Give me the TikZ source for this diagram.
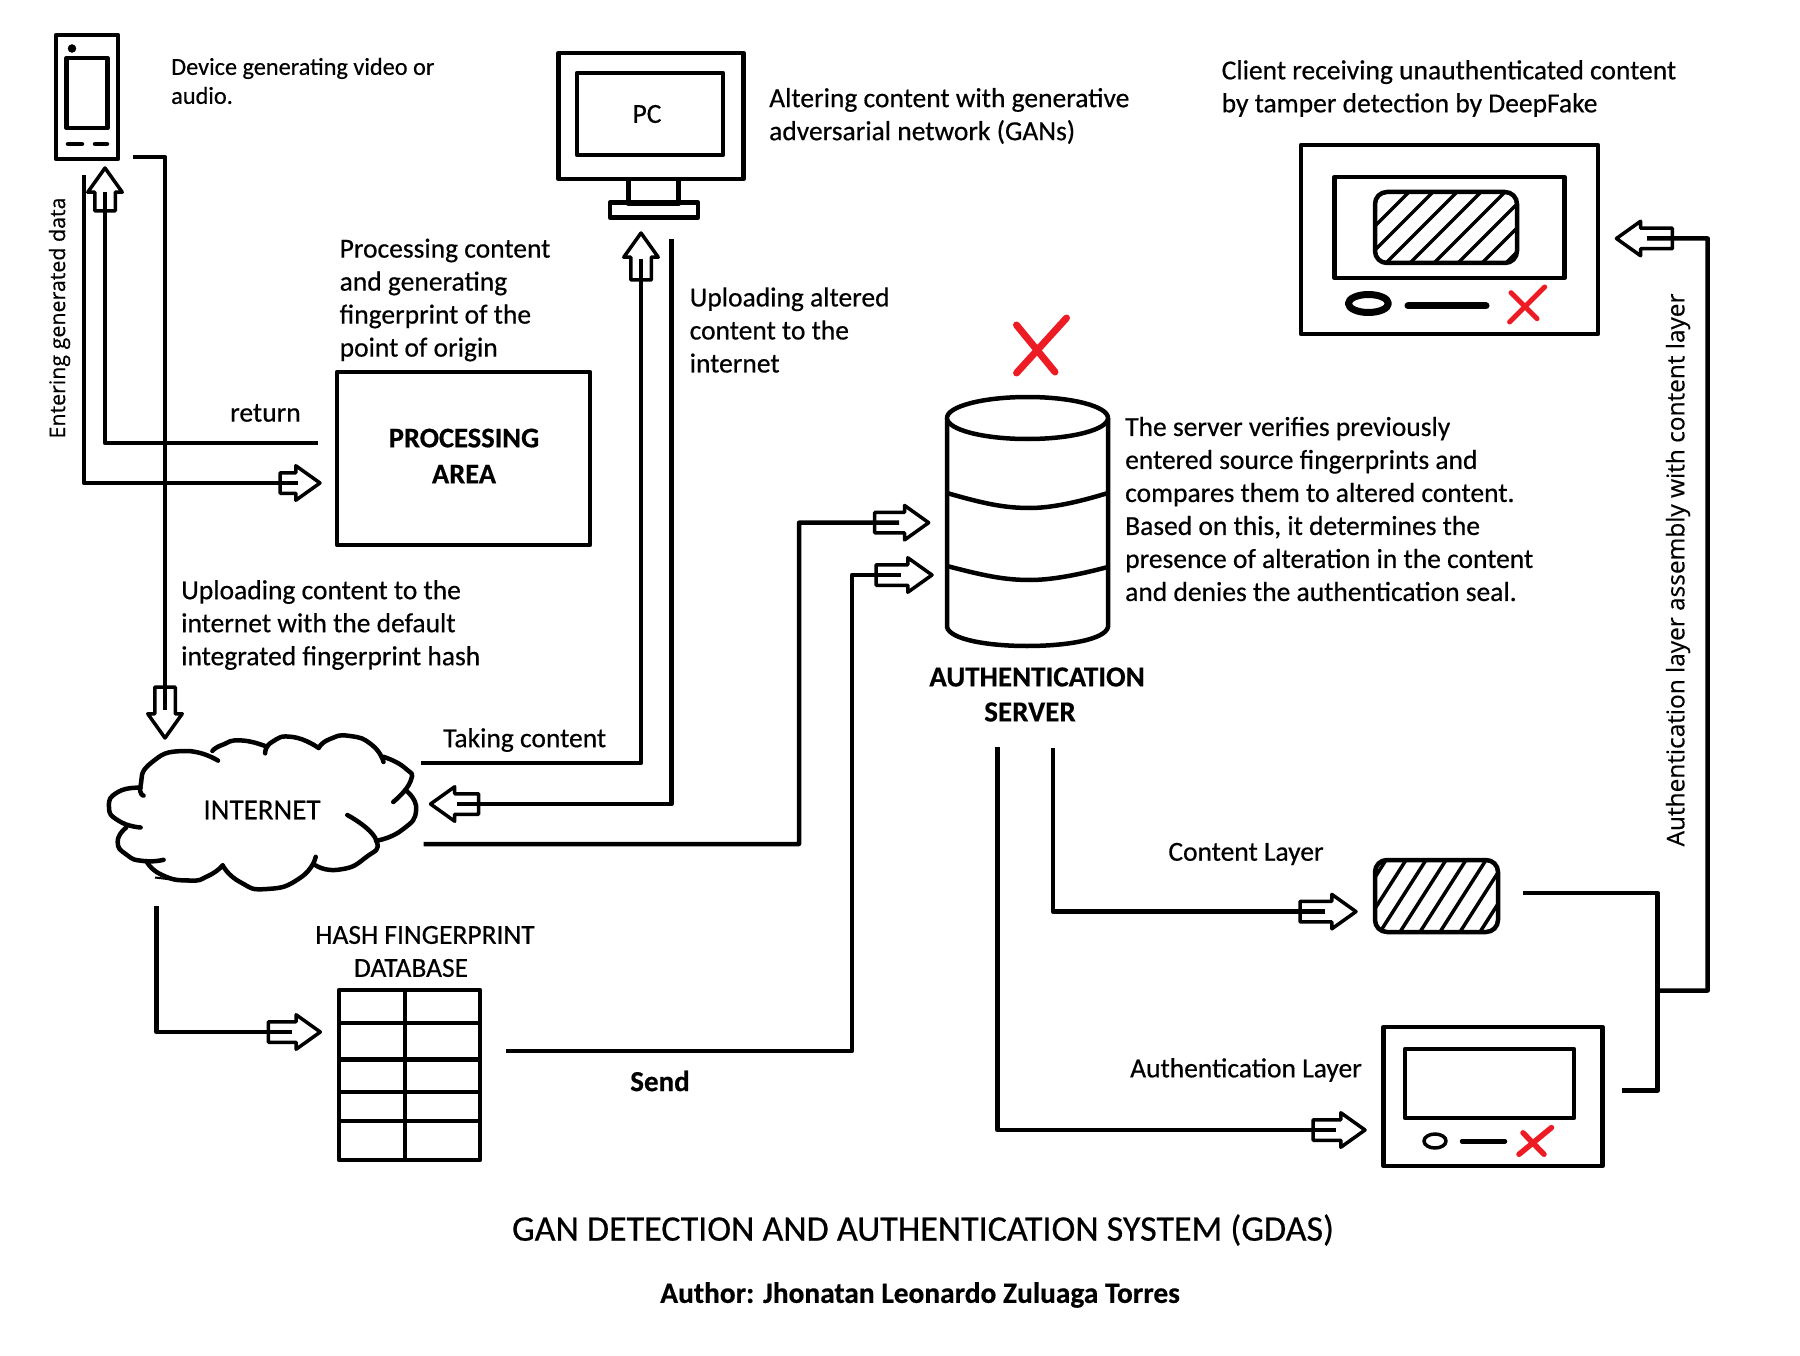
\documentclass[tikz,border=0pt]{standalone}
\usepackage{fontspec}
\usepackage{tikz}
\usetikzlibrary{shapes.arrows,calc}
\setmainfont[FakeBold=0.5]{Carlito}
\newfontfamily\sidefont[FakeBold=0.4]{Open Sans}
\definecolor{crossred}{HTML}{ED1C24}
\tikzset{
  wire/.style={line width=4.5pt},
  box/.style={draw,line width=4.5pt,inner sep=0pt,outer sep=0pt,align=center,font=\fontsize{27.5}{36}\selectfont},
  hollow/.style={draw,line width=3.5pt,anchor=tip,single arrow,single arrow tip angle=71,
    single arrow head extend=7pt,inner sep=8.5pt,outer sep=0pt},
  hatched/.style={box,rounded corners=12pt},
  cross/.style={draw=crossred,line width=5pt,line cap=round},
  txt/.style={anchor=west,align=left,inner sep=0pt,font=\fontsize{27.5}{33}\selectfont},
  caption/.style={inner sep=0pt,align=center,font=\fontsize{27.5}{35.5}\selectfont},
  heading/.style={inner sep=0pt,align=center,font=\fontsize{29}{35.5}\bfseries\selectfont},
  sidetxt/.style={inner sep=0pt,rotate=90,font=\sidefont\fontsize{21.4}{25}\selectfont}
}
\begin{document}
\begin{tikzpicture}[x=1pt,y=-1pt,join=round] % Device and PC
       \useasboundingbox (0,0) rectangle (1800,1356);
       \node[box,minimum width=62pt,minimum height=124pt] (phone) at (87,97) {};
       \node[box,minimum width=41pt,minimum height=70pt] (phonescreen) at (87,93) {};
       \filldraw (72,48.5) circle (4pt);
       \draw[wire,line cap=round] (68,144) -- (82,144) (95,144) -- (107,144);
       \node[box,minimum width=185pt,minimum height=126pt] (pc) at (651,116) {};
       \node[box,minimum width=146pt,minimum height=82pt] (pcscreen) at (650,114) {\hspace*{-6pt}PC};
       \node[box,minimum width=50pt,minimum height=25pt] (pcneck) at (653.5,191.5) {};
       \node[box,minimum width=88pt,minimum height=15pt] (pcbase) at (654,210) {};
       \node[box,minimum width=253pt,minimum height=173pt] (procarea) at (463.5,458.5) {};
       \node[heading,font=\fontsize{28.5}{36}\bfseries\selectfont] (procname) at (464,456) {PROCESSING\\AREA};
       % Client Screen
       \node[box,minimum width=297pt,minimum height=189pt] (client) at (1449.5,239.5) {};
       \node[box,minimum width=230pt,minimum height=101pt] (clientscreen) at (1449.5,227.5) {};
       \node[hatched,minimum width=142pt,minimum height=71pt] (clientlayer) at (1446,227.5) {};
       \begin{scope}
       \clip[rounded corners=12pt] (1375,192) rectangle (1517,263);
       \foreach \hx in {1338,1362,...,1530}
              \draw[line width=3.5pt] (\hx,263) -- ++(72,-72);
       \end{scope}
       \draw[line width=7pt] (1368.4,303.5) ellipse (20pt and 9pt);
       \draw[line width=7pt,line cap=round] (1408,306) -- (1486,306);
       \draw[cross] (1509.6,322) -- (1544.7,287) (1511,292.7) -- (1537,318.7);
       % Server Drum
       \draw[wire] (947,418) -- (947,627) .. controls (950,640) and (990,646) .. (1027,646) .. controls (1065,646) and (1105,640) .. (1108,627) -- (1108,418);
       \draw[wire,fill=white] (1027.5,418) ellipse (80.5pt and 21pt);
       \draw[wire] (947,493) .. controls (985,504) and (1005,508) .. (1030,508) .. controls (1055,508) and (1085,500) .. (1108,493);
       \draw[wire] (947,566) .. controls (985,576) and (1005,580) .. (1030,580) .. controls (1055,580) and (1085,573) .. (1108,567);
       \draw[cross,line width=7pt] (1016.5,325) -- (1055,372) (1066.5,318) -- (1016.5,373);
       % Layers
       \node[hatched,minimum width=123pt,minimum height=72pt] (contlayer) at (1436.5,896) {};
       \begin{scope}
       \clip[rounded corners=12pt] (1375,860) rectangle (1498,932);
       \foreach \hx in {1340,1360,...,1500}
              \draw[line width=3.5pt] (\hx,932) -- ++(46,-72);
       \end{scope}
       \node[box,minimum width=219pt,minimum height=139pt] (authlayer) at (1493,1096.5) {};
       \node[box,minimum width=169pt,minimum height=69pt] (authscreen) at (1489.5,1083.5) {};
       \draw[line width=3.5pt] (1435,1141) ellipse (11pt and 7pt);
       \draw[wire,line cap=round] (1462,1141.4) -- (1505,1141.4);
       \draw[cross,line width=5.5pt] (1519,1154.3) -- (1551.5,1127.6) (1523,1132.8) -- (1544,1154.3);
       % Hash Table
       \node[box,minimum width=141pt,minimum height=170pt] (hashdb) at (409.5,1075) {};
       \draw[wire] (405,990.5) -- (405,1160);
       \foreach \ry in {1023,1059.5,1092,1121}
              \draw[wire] (337,\ry) -- (482,\ry);
       % Cloud
       \node[inner sep=0pt,font=\fontsize{29}{33}\selectfont] (internet) at (262,810) {INTERNET};
       \draw[wire,line cap=round] plot[smooth,tension=1] coordinates {(218,760.6) (183.7,751) (151,763) (140.6,785.6) (143.5,795.6)};
       \draw[wire,line cap=round] plot[smooth,tension=1] coordinates {(140.6,787.8) (118,792) (109,807) (119,821) (140.6,827.5)};
       \draw[wire,line cap=round] plot[smooth,tension=1] coordinates {(126.3,827.5) (117.7,841.7) (127,855) (143.5,861) (163.6,859.8)};
       \draw[wire,line cap=round] plot[smooth,tension=1] coordinates {(146.4,861) (162,875) (189.4,880.5) (208,876) (222.7,865.4)};
       \draw[line width=2pt] (155,877.5) -- (192,882);
       \draw[wire,line cap=round] plot[smooth,tension=1] coordinates {(222.7,865.4) (240,882) (267,889) (300,878) (315.7,856.8)};
       \draw[wire,line cap=round] plot[smooth,tension=1] coordinates {(315.7,865.4) (338.7,869.7) (365,858) (376,839.6) (347.3,815)};
       \draw[wire,line cap=round] plot[smooth,tension=1] coordinates {(376,840.8) (402,830) (416.2,809.4) (405.3,790)};
       \draw[wire,line cap=round] plot[smooth,tension=1] coordinates {(393.2,802) (410.5,781.3) (405,768) (383.5,756.8)};
       \draw[wire,line cap=round] plot[smooth,tension=1] coordinates {(383.5,762) (372,745) (350,736) (330,739) (318.6,748)};
       \draw[wire,line cap=round] plot[smooth,tension=1] coordinates {(318.6,748) (292.8,737) (272,742) (265.2,753.3)};
       \draw[wire,line cap=round] plot[smooth,tension=1] coordinates {(267,746.8) (241,740.4) (222,745) (212.4,751)};
       % Hollow Arrows
       \node[hollow,shape border rotate=90,minimum height=43pt,minimum width=28pt] (phonein) at (105,168) {};
       \node[hollow,minimum height=40pt,minimum width=30pt] (procin) at (320,483) {};
       \node[hollow,shape border rotate=270,minimum height=51pt,minimum width=31pt] (netin) at (165,738) {};
       \node[hollow,shape border rotate=90,minimum height=47pt,minimum width=33pt] (pcin) at (641,233) {};
       \node[hollow,shape border rotate=180,minimum height=48pt,minimum width=31pt] (netback) at (430.5,804) {};
       \node[hollow,minimum height=54pt,minimum width=32pt] (srvtop) at (928.7,522.7) {};
       \node[hollow,minimum height=56pt,minimum width=31pt] (srvlow) at (932,575) {};
       \node[hollow,minimum height=52pt,minimum width=28pt] (dbin) at (320.3,1032) {};
       \node[hollow,minimum height=56pt,minimum width=30pt] (contin) at (1356,911.6) {};
       \node[hollow,minimum height=52pt,minimum width=30pt] (authin) at (1365,1130) {};
       \node[hollow,shape border rotate=180,minimum height=56pt,minimum width=34pt] (clientin) at (1616.4,238.5) {};
       \foreach \ar in {phonein,procin,netin,pcin,netback,srvtop,srvlow,dbin,contin,authin,clientin}
              \coordinate (\ar-end) at ($(\ar.tip)!0.55!(\ar.tail)$);
       % Connector Ends
       \coordinate (phoneout) at (133,157);
       \coordinate (phoneback) at (84,175);
       \coordinate (procback) at (317.5,443);
       \coordinate (taking) at (421,763);
       \coordinate (pcout) at (671.6,239);
       \coordinate (netout) at (423.6,844);
       \coordinate (bendtop) at (799,522.7);
       \coordinate (sendout) at (506,1051);
       \coordinate (bendlow) at (852,575);
       \coordinate (netdown) at (156.7,906.4);
       \coordinate (srvleft) at (997.6,747);
       \coordinate (srvright) at (1053,748);
       \coordinate (contout) at (1523,893);
       \coordinate (authout) at (1622,1090.5);
       \coordinate (joinbot) at (1657.7,1090.5);
       \coordinate (jointee) at (1657.7,990.5);
       \coordinate (bendup) at (1707.7,238.5);
       \draw[wire] (phoneout) -| (netin-end);
       \draw[wire] (phoneback) |- (procin-end);
       \draw[wire] (procback) -| (phonein-end);
       \draw[wire] (taking) -| (pcin-end);
       \draw[wire] (pcout) |- (netback-end);
       \draw[wire] (netout) -| (bendtop) -- (srvtop-end);
       \draw[wire] (sendout) -| (bendlow) -- (srvlow-end);
       \draw[wire] (netdown) |- (dbin-end);
       \draw[wire] (srvleft) |- (authin-end);
       \draw[wire] (srvright) |- (contin-end);
       \draw[wire] (contout) -| (joinbot) -- (authout);
       \draw[wire] (jointee) -| (bendup) -- (clientin-end);
       % Labels
       \node[txt,font=\fontsize{24.3}{29}\selectfont] (devicetxt) at (171,81) {Device generating video or\\audio.};
       \node[txt] (alteringtxt) at (769,116) {Altering content with generative\\adversarial network (GANs)};
       \node[txt] (clienttxt) at (1221.5,88.5) {Client receiving unauthenticated content\\by tamper detection by DeepFake};
       \node[txt] (origintxt) at (339.5,300) {Processing content\\and generating\\fingerprint of the\\point of origin};
       \node[txt] (alteredtxt) at (689.5,330) {Uploading altered\\content to the\\internet};
       \node[txt] (returntxt) at (230,413) {return};
       \node[txt] (hashtxt) at (181,625) {Uploading content to the\\internet with the default\\integrated fingerprint hash};
       \node[txt] (takingtxt) at (443,740) {Taking content};
       \node[txt] (servertxt) at (1125,509) {The server verifies previously\\entered source fingerprints and\\compares them to altered content.\\Based on this, it determines the\\presence of alteration in the content\\and denies the authentication seal.};
       \node[heading] (authname) at (1037,677) {AUTHENTICATION};
       \node[heading] (servername) at (1030,712) {SERVER};
       \node[caption] (hashname) at (425,935) {HASH FINGERPRINT};
       \node[caption] (dbname) at (411,968) {DATABASE};
       \node[heading] (sendtxt) at (660,1081) {Send};
       \node[caption] (contenttxt) at (1246,854) {Content Layer};
       \node[caption] (authtxt) at (1246,1070) {Authentication Layer};
       \node[sidetxt] (enteringtxt) at (59.5,318) {Entering generated data};
       \node[sidetxt,font=\sidefont\fontsize{24.4}{28}\selectfont] (assemblytxt) at (1678,570) {Authentication layer assembly with content layer};
       \node[caption,font=\fontsize{36}{42}\selectfont] (title) at (923,1230) {GAN DETECTION AND AUTHENTICATION SYSTEM (GDAS)};
       \node[caption,font=\fontsize{29.4}{34}\bfseries\selectfont] (authorline) at (920,1295) {Author: Jhonatan Leonardo Zuluaga Torres};
   \end{tikzpicture}
\end{document}
